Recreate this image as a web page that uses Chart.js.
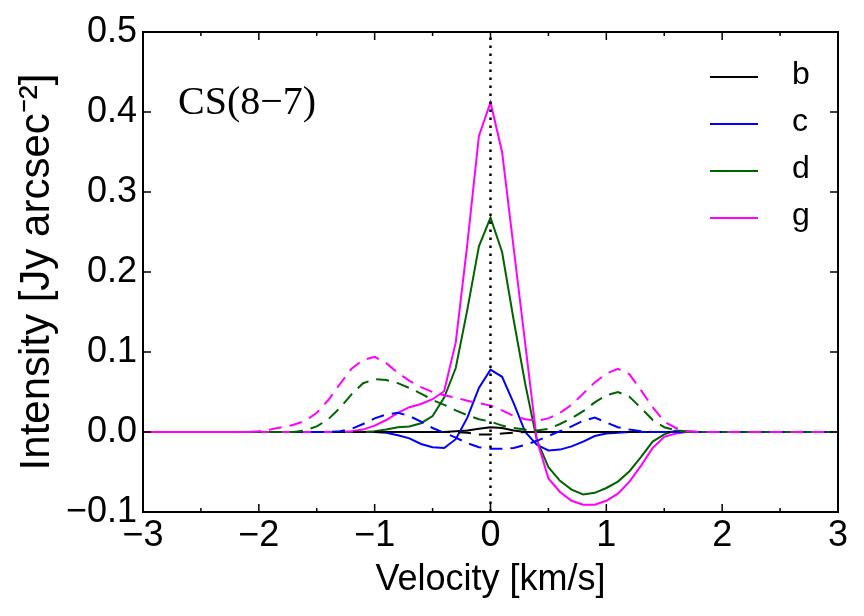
<!DOCTYPE html>
<html>
<head>
<meta charset="utf-8">
<script src="https://cdn.jsdelivr.net/npm/chart.js@4.4.1/dist/chart.umd.min.js"></script>
<style>
  body { margin: 0; background: #fff; }
</style>
</head>
<body>
<canvas id="canvas-cs" width="864" height="616"></canvas>
<script>
// velocity grid, km/s
const velocity = [
  -3.0, -2.9, -2.8, -2.7, -2.6, -2.5, -2.4, -2.3, -2.2, -2.1,
  -2.0, -1.9, -1.8, -1.7, -1.6, -1.5, -1.4, -1.3, -1.2, -1.1,
  -1.0, -0.9, -0.8, -0.7, -0.6, -0.5, -0.4, -0.3, -0.2, -0.1,
  0.0, 0.1, 0.2, 0.3, 0.4, 0.5, 0.6, 0.7, 0.8, 0.9,
  1.0, 1.1, 1.2, 1.3, 1.4, 1.5, 1.6, 1.7, 1.8, 1.9,
  2.0, 2.1, 2.2, 2.3, 2.4, 2.5, 2.6, 2.7, 2.8, 2.9,
  3.0
];

// solid profiles
const bSolid = [
  0, 0, 0, 0, 0, 0, 0, 0, 0, 0,
  0, 0, 0, 0, 0, 0, 0, 0, 0, 0,
  0, 0, 0, 0, 0, 0, 0, 0.001, 0.002, 0.004,
  0.006, 0.005, 0.002, 0, 0, 0, 0, 0, 0, 0,
  0, 0, 0, 0, 0, 0, 0, 0, 0, 0,
  0, 0, 0, 0, 0, 0, 0, 0, 0, 0,
  0
];
const cSolid = [
  0, 0, 0, 0, 0, 0, 0, 0, 0, 0,
  0, 0, 0, 0, 0, 0, 0, 0, 0, 0,
  0, -0.001, -0.004, -0.008, -0.015, -0.019, -0.02, -0.009, 0.018, 0.055,
  0.078, 0.069, 0.036, 0, -0.016, -0.023, -0.022, -0.018, -0.012, -0.005,
  -0.002, -0.001, 0, 0, 0, 0, 0, 0, 0, 0,
  0, 0, 0, 0, 0, 0, 0, 0, 0, 0,
  0
];
const dSolid = [
  0, 0, 0, 0, 0, 0, 0, 0, 0, 0,
  0, 0, 0, 0, 0, 0, 0, 0, 0, 0,
  0.001, 0.003, 0.006, 0.007, 0.011, 0.02, 0.043, 0.08, 0.153, 0.232,
  0.268, 0.225, 0.14, 0.06, -0.01, -0.044, -0.061, -0.072, -0.078, -0.076,
  -0.07, -0.062, -0.049, -0.031, -0.012, -0.003, 0.002, 0.001, 0, 0,
  0, 0, 0, 0, 0, 0, 0, 0, 0, 0,
  0
];
const gSolid = [
  0, 0, 0, 0, 0, 0, 0, 0, 0, 0,
  0, 0, 0, 0, 0, 0, 0, 0, 0.001, 0.003,
  0.008, 0.015, 0.024, 0.031, 0.035, 0.041, 0.051, 0.112, 0.235, 0.37,
  0.412, 0.35, 0.23, 0.11, -0.01, -0.058, -0.075, -0.086, -0.091, -0.091,
  -0.086, -0.077, -0.062, -0.042, -0.02, -0.006, -0.002, 0, 0, 0,
  0, 0, 0, 0, 0, 0, 0, 0, 0, 0,
  0
];

// dashed profiles
const bDash = [
  0, 0, 0, 0, 0, 0, 0, 0, 0, 0,
  0, 0, 0, 0, 0, 0, 0, 0, 0, 0,
  0, 0, 0, 0, 0, 0, 0, 0, -0.001, -0.003,
  -0.003, -0.002, -0.001, 0, 0, 0, 0, 0, 0, 0,
  0, 0, 0, 0, 0, 0, 0, 0, 0, 0,
  0, 0, 0, 0, 0, 0, 0, 0, 0, 0,
  0
];
const cDash = [
  0, 0, 0, 0, 0, 0, 0, 0, 0, 0,
  0, 0, 0, 0, 0, 0, 0, 0.001, 0.004, 0.01,
  0.017, 0.022, 0.024, 0.02, 0.013, 0.005, -0.001, -0.007, -0.014, -0.019,
  -0.021, -0.021, -0.02, -0.016, -0.011, -0.005, 0.001, 0.007, 0.014, 0.018,
  0.012, 0.006, 0.003, 0.001, 0, 0, 0, 0, 0, 0,
  0, 0, 0, 0, 0, 0, 0, 0, 0, 0,
  0
];
const dDash = [
  0, 0, 0, 0, 0, 0, 0, 0, 0, 0,
  0, 0, 0, 0, 0.002, 0.007, 0.016, 0.03, 0.047, 0.061,
  0.066, 0.065, 0.061, 0.055, 0.048, 0.04, 0.034, 0.027, 0.021, 0.016,
  0.013, 0.008, 0.005, 0.003, 0.002, 0.004, 0.01, 0.017, 0.026, 0.037,
  0.046, 0.05, 0.044, 0.03, 0.015, 0.006, 0.002, 0, 0, 0,
  0, 0, 0, 0, 0, 0, 0, 0, 0, 0,
  0
];
const gDash = [
  0, 0, 0, 0, 0, 0, 0, 0, 0, 0,
  0.001, 0.003, 0.006, 0.009, 0.014, 0.024, 0.04, 0.06, 0.079, 0.09,
  0.094, 0.086, 0.074, 0.064, 0.056, 0.05, 0.046, 0.043, 0.039, 0.036,
  0.033, 0.027, 0.02, 0.016, 0.014, 0.017, 0.024, 0.034, 0.048, 0.062,
  0.073, 0.079, 0.072, 0.052, 0.031, 0.013, 0.005, 0.001, 0, 0,
  0, 0, 0, 0, 0, 0, 0, 0, 0, 0,
  0
];

const labels = ['b', 'c', 'd', 'g'];
const colors = ['#000000', '#0000ff', '#006400', '#ff00ff'];
const lineName = 'CS(8\u22127)';
const xTicks = [-3, -2, -1, 0, 1, 2, 3];
const yTicks = [-0.1, 0.0, 0.1, 0.2, 0.3, 0.4, 0.5];
const systemic = 0;

const pts = (vals) => vals.map((v, i) => ({ x: velocity[i], y: v }));
const fmt = (v, d) => {
  if (Math.abs(v) < 1e-9) v = 0;
  const s = Math.abs(v).toFixed(d);
  return v < 0 ? '\u2212' + s : s;
};

const solids = [bSolid, cSolid, dSolid, gSolid];
const dashes = [bDash, cDash, dDash, gDash];

const datasets = [];
solids.forEach((s, i) => datasets.push({
  label: labels[i], data: pts(s), borderColor: colors[i], borderWidth: 2,
  pointRadius: 0, tension: 0, fill: false, order: 8 - i
}));
dashes.forEach((s, i) => datasets.push({
  label: '', data: pts(s), borderColor: colors[i], borderWidth: 2, borderDash: [13, 8],
  pointRadius: 0, tension: 0, fill: false, order: 4 - i
}));
datasets.push({
  label: '', data: [{ x: systemic, y: yTicks[0] }, { x: systemic, y: yTicks[yTicks.length - 1] }],
  borderColor: '#000', borderWidth: 2.5, borderDash: [2.5, 5.5], pointRadius: 0, fill: false, order: 0
});

// inward ticks, frame, line name and legend
const decor = {
  id: 'decor',
  afterDatasetsDraw(chart) {
    const { ctx, chartArea: a, scales: { x, y } } = chart;
    ctx.save();
    ctx.strokeStyle = '#000';
    ctx.lineWidth = 1.5;
    ctx.beginPath();
    const xs = x.ticks.map(t => t.value);
    xs.forEach((v, i) => {
      const px = x.getPixelForValue(v);
      ctx.moveTo(px, a.bottom); ctx.lineTo(px, a.bottom - 8);
      ctx.moveTo(px, a.top); ctx.lineTo(px, a.top + 8);
      if (i < xs.length - 1) {
        const pm = x.getPixelForValue((v + xs[i + 1]) / 2);
        ctx.moveTo(pm, a.bottom); ctx.lineTo(pm, a.bottom - 4);
        ctx.moveTo(pm, a.top); ctx.lineTo(pm, a.top + 4);
      }
    });
    y.ticks.forEach(t => {
      const py = y.getPixelForValue(t.value);
      ctx.moveTo(a.left, py); ctx.lineTo(a.left + 8, py);
      ctx.moveTo(a.right, py); ctx.lineTo(a.right - 8, py);
    });
    ctx.stroke();
    ctx.lineWidth = 2;
    ctx.strokeRect(a.left, a.top, a.right - a.left, a.bottom - a.top);

    ctx.fillStyle = '#000';
    ctx.font = '40px "Liberation Serif"';
    ctx.textBaseline = 'alphabetic';
    ctx.textAlign = 'left';
    ctx.fillText(lineName, a.left + 35, a.top + 82);

    ctx.font = '32px "Liberation Sans"';
    ctx.textBaseline = 'middle';
    labels.forEach((lab, i) => {
      const ly = a.top + 45 + i * 47;
      ctx.strokeStyle = colors[i];
      ctx.lineWidth = 2;
      ctx.beginPath();
      ctx.moveTo(a.right - 128, ly); ctx.lineTo(a.right - 80, ly);
      ctx.stroke();
      ctx.fillText(lab, a.right - 46, ly - 2);
    });
    ctx.restore();
  }
};

const tickFont = { family: '"Liberation Sans", Arial, sans-serif', size: 36 };
const yTitleFont = { family: '"Liberation Sans", Arial, sans-serif', size: 42 };

const ctx = document.getElementById('canvas-cs').getContext('2d');
const myChart = new Chart(ctx, {
  type: 'line',
  data: { datasets: datasets },
  options: {
    responsive: false,
    animation: false,
    layout: { padding: { top: 32, right: 26, left: 0, bottom: 0 } },
    plugins: { legend: { display: false }, tooltip: { enabled: false } },
    scales: {
      x: {
        type: 'linear', min: xTicks[0], max: xTicks[xTicks.length - 1],
        grid: { display: false, drawTicks: false },
        border: { display: false },
        ticks: {
          stepSize: 1, color: '#000', font: tickFont, padding: 2, maxRotation: 0,
          callback: v => fmt(v, 0)
        },
        title: {
          display: true, text: 'Velocity [km/s]', color: '#000',
          font: tickFont, padding: { top: 0, bottom: 14 }
        },
        afterFit: s => { s.height = 104; }
      },
      y: {
        type: 'linear', min: yTicks[0], max: yTicks[yTicks.length - 1],
        grid: { display: false, drawTicks: false },
        border: { display: false },
        ticks: {
          stepSize: 0.1, color: '#000', font: tickFont, padding: 6,
          callback: v => fmt(v, 1)
        },
        title: {
          display: true, text: 'Intensity [Jy arcsec\u207B\u00B2]', color: '#000',
          font: yTitleFont, padding: { top: 12, bottom: 0 }
        },
        afterFit: s => { s.width = 143; }
      }
    }
  },
  plugins: [decor]
});
</script>
</body>
</html>
